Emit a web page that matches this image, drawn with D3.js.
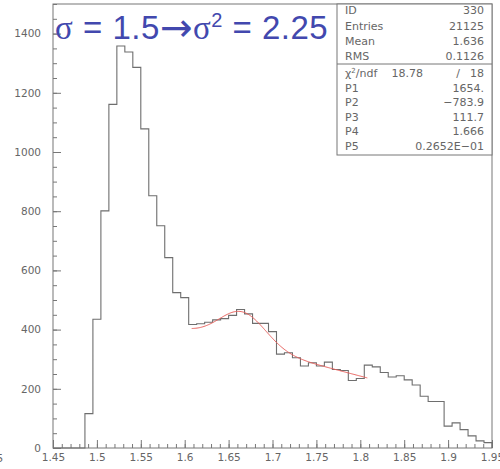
<!DOCTYPE html>
<html>
<head>
<meta charset="utf-8">
<script src="https://cdn.jsdelivr.net/npm/d3@7"></script>
<style>
  body { margin: 0; background: #fff; }
  svg { display: block; }
  text { font-family: "DejaVu Sans", sans-serif; }
</style>
</head>
<body>
<svg id="chart" width="500" height="469"></svg>
<script>
// Histogram 330: 55 equal bins over [1.45, 1.95]
const histRange = [1.45, 1.95];
const binCounts = [
  0, 0, 0, 0, 116, 435, 801, 1161, 1358, 1338,
  1286, 1078, 852, 751, 643, 525, 508, 417, 420, 425,
  433, 437, 448, 468, 453, 421, 421, 393, 317, 322,
  305, 277, 288, 277, 290, 265, 262, 228, 235, 280,
  274, 255, 240, 244, 230, 213, 175, 157, 157, 74,
  85, 62, 41, 24, 18
];

// Fit: P1 + P2*x + P3*exp(-0.5*((x-P4)/P5)^2) over the fit range
const fitParams = [1654, -783.9, 111.7, 1.666, 0.02652];
const fitRange = [1.608, 1.808];

// Axis ticks
const xMajorTicks = [1.45, 1.5, 1.55, 1.6, 1.65, 1.7, 1.75, 1.8, 1.85, 1.9, 1.95];
const xTickLabels = ["1.45", "1.5", "1.55", "1.6", "1.65", "1.7", "1.75", "1.8", "1.85", "1.9", "1.95"];
const yMajorTicks = [0, 200, 400, 600, 800, 1000, 1200, 1400];
const yTickLabels = ["0", "200", "400", "600", "800", "1000", "1200", "1400"];

// Statistics box contents
const statLabels = ["ID", "Entries", "Mean", "RMS"];
const statValues = ["330", "21125", "1.636", "0.1126"];
const chi2Value = "18.78";
const ndfValue = "18";
const fitLabels = ["P1", "P2", "P3", "P4", "P5"];
const fitValues = ["1654.", "\u2212783.9", "111.7", "1.666", "0.2652E\u221201"];

const svg = d3.select("#chart");
const axisColor = "#777";
const textColor = "#666";

const x = d3.scaleLinear().domain(histRange).range([53, 492]);
const y = d3.scaleLinear().domain([0, 1500]).range([448, 4]);

// Minor ticks
const xMinor = d3.range(0, 51).map(i => histRange[0] + i * 0.01);
const yMinor = d3.range(0, 31).map(i => i * 50);

const gxMinor = svg.append("g").attr("transform", "translate(0,448)")
  .call(d3.axisBottom(x).tickValues(xMinor).tickSize(-4).tickFormat(""));
const gxMajor = svg.append("g").attr("transform", "translate(0,448)")
  .call(d3.axisBottom(x).tickValues(xMajorTicks).tickSize(-8).tickPadding(6)
    .tickFormat((d, i) => xTickLabels[i]));
const gyMinor = svg.append("g").attr("transform", "translate(53,0)")
  .call(d3.axisLeft(y).tickValues(yMinor).tickSize(-4).tickFormat(""));
const gyMajor = svg.append("g").attr("transform", "translate(53,0)")
  .call(d3.axisLeft(y).tickValues(yMajorTicks).tickSize(-8).tickPadding(12)
    .tickFormat((d, i) => yTickLabels[i]));

[gxMinor, gxMajor, gyMinor, gyMajor].forEach(g => {
  g.select(".domain").remove();
  g.selectAll(".tick line").attr("stroke", axisColor).attr("stroke-width", 1);
  g.selectAll(".tick text").attr("fill", textColor)
    .style("font-size", "10.5px").style("font-family", "DejaVu Sans, sans-serif");
});

// Clipped leftover label at the left edge
svg.append("text").attr("x", -3.5).attr("y", 462).attr("fill", textColor)
  .style("font-size", "10.5px").text("5");

// Frame
svg.append("rect")
  .attr("x", x(histRange[0])).attr("y", y(1500))
  .attr("width", x(histRange[1]) - x(histRange[0]))
  .attr("height", y(0) - y(1500))
  .attr("fill", "none").attr("stroke", axisColor).attr("stroke-width", 1);

// Histogram as a step outline
const nBins = binCounts.length;
const binW = (histRange[1] - histRange[0]) / nBins;
const pts = [[x(histRange[0]), y(0)]];
binCounts.forEach((c, i) => {
  const lo = histRange[0] + i * binW, hi = lo + binW;
  pts.push([x(lo), y(c)], [x(hi), y(c)]);
});
pts.push([x(histRange[1]), y(0)]);
svg.append("path")
  .attr("d", d3.line()(pts))
  .attr("fill", "none").attr("stroke", "#6e6e6e").attr("stroke-width", 1.1);

// Fit curve
const fitFn = v => fitParams[0] + fitParams[1] * v +
  fitParams[2] * Math.exp(-0.5 * Math.pow((v - fitParams[3]) / fitParams[4], 2));
const fitXs = d3.range(0, 201).map(i => fitRange[0] + (fitRange[1] - fitRange[0]) * i / 200);
svg.append("path")
  .attr("d", d3.line().x(v => x(v)).y(v => y(fitFn(v)))(fitXs))
  .attr("fill", "none").attr("stroke", "#e8605c").attr("stroke-width", 1);

// Statistics box
const boxL = 337, boxR = x(histRange[1]), boxT = y(1500), boxB = 155;
const sb = svg.append("g");
sb.append("rect").attr("x", boxL).attr("y", boxT).attr("width", boxR - boxL)
  .attr("height", boxB - boxT).attr("fill", "#fff").attr("stroke", axisColor);
sb.append("line").attr("x1", boxL).attr("x2", boxR).attr("y1", 64).attr("y2", 64)
  .attr("stroke", axisColor);

const topRows = [14, 29.5, 45, 60];
const fitRows = [77, 91.5, 106, 120.5, 135, 149.5];
const styleText = s => s.attr("fill", textColor).style("font-size", "11px");

statLabels.forEach((lab, i) => {
  styleText(sb.append("text").attr("x", 345).attr("y", topRows[i]).text(lab));
  styleText(sb.append("text").attr("x", 484).attr("y", topRows[i])
    .attr("text-anchor", "end").text(statValues[i]));
});

const chi = styleText(sb.append("text").attr("x", 345).attr("y", fitRows[0]));
chi.append("tspan").text("\u03c7");
chi.append("tspan").attr("dy", -4).style("font-size", "7px").text("2");
chi.append("tspan").attr("dy", 4).text("/ndf");
styleText(sb.append("text").attr("x", 423).attr("y", fitRows[0])
  .attr("text-anchor", "end").text(chi2Value));
styleText(sb.append("text").attr("x", 458).attr("y", fitRows[0])
  .attr("text-anchor", "middle").text("/"));
styleText(sb.append("text").attr("x", 484).attr("y", fitRows[0])
  .attr("text-anchor", "end").text(ndfValue));

fitLabels.forEach((lab, i) => {
  styleText(sb.append("text").attr("x", 345).attr("y", fitRows[i + 1]).text(lab));
  styleText(sb.append("text").attr("x", 484).attr("y", fitRows[i + 1])
    .attr("text-anchor", "end").text(fitValues[i]));
});

// Title annotation
const title = svg.append("text").attr("x", 55).attr("y", 39)
  .attr("fill", "#4248ae")
  .style("font-family", "Liberation Sans, Arial, sans-serif")
  .style("font-size", "33px")
  .style("letter-spacing", "0.5px");
title.append("tspan").style("font-family", "Liberation Serif, serif").text("\u03c3");
title.append("tspan").text(" = 1.5");
title.append("tspan").attr("dy", 2)
  .style("font-family", "DejaVu Sans, sans-serif").style("font-size", "39px")
  .text("\u2192");
title.append("tspan").attr("dy", -2)
  .style("font-family", "Liberation Serif, serif").text("\u03c3");
title.append("tspan").attr("dy", -12).style("font-size", "20px").text("2");
title.append("tspan").attr("dy", 12).text(" = 2.25");
</script>
</body>
</html>
